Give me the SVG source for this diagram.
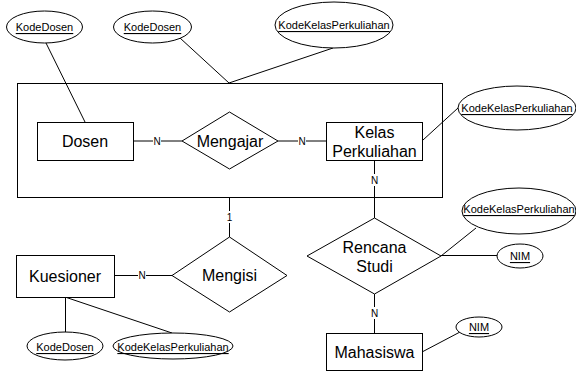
<svg xmlns="http://www.w3.org/2000/svg" width="576" height="374" viewBox="0 0 576 374">
<style>
.s{fill:#fff;stroke:#000;stroke-width:1}
.c line,.c polyline{stroke:#000;stroke-width:1;fill:none}
.t{font-family:"Liberation Sans",Arial,sans-serif;font-size:16px;fill:#000;text-anchor:middle;dominant-baseline:central}
.a{font-family:"Liberation Sans",Arial,sans-serif;font-size:11px;fill:#000;text-anchor:middle;dominant-baseline:central;text-decoration:underline}
.l{font-family:"Liberation Sans",Arial,sans-serif;font-size:10px;fill:#000;text-anchor:middle;dominant-baseline:central}
.lb{fill:#fff}
</style>
<rect width="576" height="374" fill="#fff"/>
<g id="aggregate"><rect class="s" x="17.5" y="83.5" width="425" height="114" fill="none" style="fill:none"/></g>
<g class="c" id="connectors">
<line x1="46" y1="43" x2="85" y2="122"/>
<line x1="180" y1="38" x2="229" y2="83"/>
<line x1="333" y1="48" x2="229" y2="83"/>
<line x1="133" y1="141" x2="182" y2="141"/>
<line x1="278" y1="141" x2="326" y2="141"/>
<line x1="423" y1="140" x2="458" y2="108"/>
<line x1="374.5" y1="160" x2="374.5" y2="218"/>
<line x1="229.5" y1="197" x2="229.5" y2="237"/>
<line x1="114" y1="275.5" x2="172" y2="275.5"/>
<line x1="441" y1="255.5" x2="497" y2="255.5"/>
<line x1="441" y1="256" x2="476" y2="228"/>
<line x1="374.5" y1="294" x2="374.5" y2="333"/>
<line x1="422" y1="352" x2="460" y2="332"/>
<line x1="65.5" y1="297" x2="65.5" y2="332"/>
<line x1="65" y1="297" x2="172" y2="333"/>
<rect class="lb" x="153" y="135" width="8" height="12"/>
<text class="l" x="157" y="141">N</text>
<rect class="lb" x="298" y="135" width="8" height="12"/>
<text class="l" x="302" y="141">N</text>
<rect class="lb" x="370" y="174" width="9" height="12"/>
<text class="l" x="374.5" y="180">N</text>
<rect class="lb" x="225" y="211" width="9" height="12"/>
<text class="l" x="229.5" y="217">1</text>
<rect class="lb" x="138" y="269" width="8" height="12"/>
<text class="l" x="142" y="275.5">N</text>
<rect class="lb" x="370" y="307" width="9" height="12"/>
<text class="l" x="374.5" y="313">N</text>
</g>
<g id="attr-kodedosen-1"><ellipse class="s" cx="44.5" cy="27" rx="38" ry="16"/><text class="a" x="44.5" y="27">KodeDosen</text></g>
<g id="attr-kodedosen-2"><ellipse class="s" cx="152.5" cy="27" rx="39" ry="16"/><text class="a" x="152.5" y="27">KodeDosen</text></g>
<g id="attr-kodekelas-1"><ellipse class="s" cx="334" cy="25" rx="59" ry="23"/><text class="a" x="334" y="25">KodeKelasPerkuliahan</text></g>
<g id="attr-kodekelas-2"><ellipse class="s" cx="517" cy="108" rx="59" ry="22"/><text class="a" x="517" y="108">KodeKelasPerkuliahan</text></g>
<g id="attr-kodekelas-3"><ellipse class="s" cx="519" cy="211" rx="57" ry="23"/><text class="a" x="519" y="209">KodeKelasPerkuliahan</text></g>
<g id="attr-nim-1"><ellipse class="s" cx="520" cy="256" rx="23" ry="12"/><text class="a" x="520" y="256">NIM</text></g>
<g id="attr-nim-2"><ellipse class="s" cx="479" cy="327" rx="23" ry="10"/><text class="a" x="479" y="327">NIM</text></g>
<g id="attr-kodedosen-3"><ellipse class="s" cx="65" cy="346" rx="38" ry="14"/><text class="a" x="65" y="347">KodeDosen</text></g>
<g id="attr-kodekelas-4"><ellipse class="s" cx="173" cy="346" rx="60" ry="13"/><text class="a" x="173" y="347">KodeKelasPerkuliahan</text></g>
<g id="dosen"><rect class="s" x="37.5" y="122.5" width="96" height="38"/><text class="t" x="85" y="141">Dosen</text></g>
<g id="mengajar"><polygon class="s" points="182,141 229.5,112 278,141 229.5,169"/><text class="t" x="230" y="141">Mengajar</text></g>
<g id="kelas"><rect class="s" x="326.5" y="122.5" width="96" height="38"/><text class="t" x="374.5" y="132">Kelas</text><text class="t" x="374.5" y="151">Perkuliahan</text></g>
<g id="rencana"><polygon class="s" points="307,256 374.5,218 441,256 374.5,294"/><text class="t" x="374.5" y="247">Rencana</text><text class="t" x="374.5" y="266">Studi</text></g>
<g id="mahasiswa"><rect class="s" x="326.5" y="333.5" width="96" height="37"/><text class="t" x="374.5" y="352">Mahasiswa</text></g>
<g id="kuesioner"><rect class="s" x="16.5" y="255.5" width="98" height="42"/><text class="t" x="65" y="276">Kuesioner</text></g>
<g id="mengisi"><polygon class="s" points="172,275.5 229.5,237 287,275.5 229.5,312"/><text class="t" x="229.5" y="275">Mengisi</text></g>
</svg>
